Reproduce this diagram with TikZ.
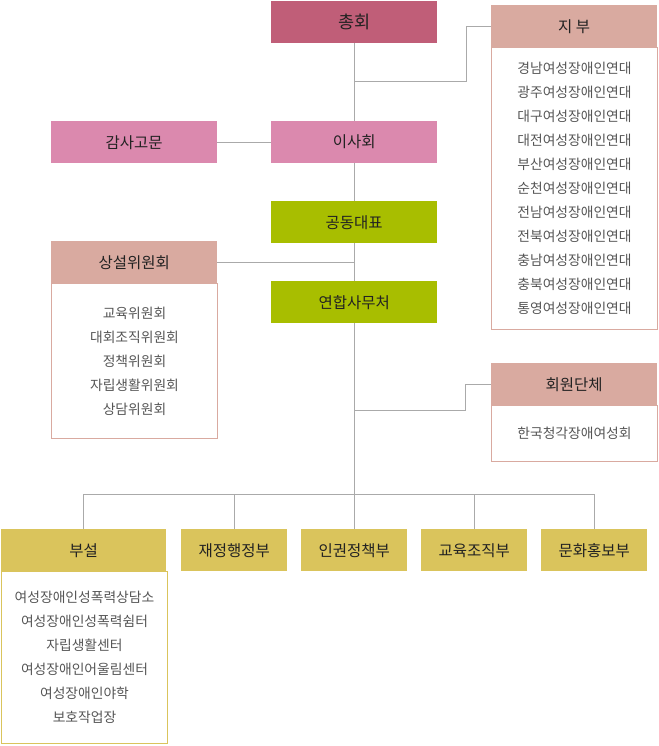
\documentclass[tikz,border=0pt]{standalone}
\usepackage{fontspec}
\newfontfamily\kr{Noto Sans CJK KR}
\definecolor{cRed}{HTML}{C05E78}
\definecolor{cPink}{HTML}{DB89AE}
\definecolor{cGreen}{HTML}{A8BE00}
\definecolor{cRose}{HTML}{D9AAA0}
\definecolor{cGold}{HTML}{DAC45C}
\definecolor{cLine}{HTML}{AAAAAA}
\definecolor{cText}{HTML}{222222}
\definecolor{cBody}{HTML}{555555}
\begin{document}
\begin{tikzpicture}[x=1pt,y=-1pt,
  hbox/.style={anchor=north west,minimum width=166pt,minimum height=42pt,inner sep=0pt,text=cText,font=\kr\fontsize{15.5}{18}\selectfont},
  sbox/.style={hbox,minimum width=106pt},
  bodybox/.style={anchor=north west,minimum width=166pt,inner sep=0pt,align=center,text=cBody,font=\kr\fontsize{13.8}{24}\selectfont,line width=1pt},
  conn/.style={draw=cLine,line width=1pt}]
\useasboundingbox (0,0) rectangle (658,746);
% bodies first
\node[bodybox,draw=cRose,minimum height=282pt] (jibubody) at (491,47) {경남여성장애인연대\\광주여성장애인연대\\대구여성장애인연대\\대전여성장애인연대\\부산여성장애인연대\\순천여성장애인연대\\전남여성장애인연대\\전북여성장애인연대\\충남여성장애인연대\\충북여성장애인연대\\통영여성장애인연대};
\node[bodybox,draw=cRose,minimum height=155pt] (sangbody) at (51,283) {교육위원회\\대회조직위원회\\정책위원회\\자립생활위원회\\상담위원회};
\node[bodybox,draw=cRose,minimum height=56pt] (hoebody) at (491,405) {한국청각장애여성회};
\node[bodybox,draw=cGold,minimum height=172pt] (bubody) at (1,571) {여성장애인성폭력상담소\\여성장애인성폭력쉼터\\자립생활센터\\여성장애인어울림센터\\여성장애인야학\\보호작업장};
% headers
\node[hbox,fill=cRed,font=\kr\fontsize{17.5}{20}\selectfont] (chonghoe) at (271,1) {총회};
\node[hbox,fill=cRose] (jibu) at (491,5) {지 부};
\node[hbox,fill=cPink] (gamsa) at (51,121) {감사고문};
\node[hbox,fill=cPink] (isahoe) at (271,121) {이사회};
\node[hbox,fill=cGreen] (gongdong) at (271,201) {공동대표};
\node[hbox,fill=cRose] (sangseol) at (51,241) {상설위원회};
\node[hbox,fill=cGreen] (yeonhap) at (271,281) {연합사무처};
\node[hbox,fill=cRose] (hoewon) at (491,363) {회원단체};
\node[hbox,fill=cGold,minimum width=165pt] (buseol) at (1,529) {부설};
\node[sbox,fill=cGold] (jaejeong) at (181,529) {재정행정부};
\node[sbox,fill=cGold] (ingwon) at (301,529) {인권정책부};
\node[sbox,fill=cGold] (gyoyuk) at (421,529) {교육조직부};
\node[sbox,fill=cGold] (munhwa) at (541,529) {문화홍보부};
% junction coordinates
\coordinate (jj) at (354,82);
\coordinate (hj) at (354,410);
% connectors
\draw[conn] (chonghoe.south) -- (isahoe.north);
\draw[conn] (isahoe.south) -- (gongdong.north);
\draw[conn] (gongdong.south) -- (yeonhap.north);
\draw[conn] (yeonhap.south) -- (ingwon.north);
\draw[conn] (jibu.west) -- ++(-25,0) |- (jj);
\draw[conn] (gamsa.east) -- (isahoe.west);
\draw[conn] (sangseol.east) -- (sangseol.east -| gongdong.south);
\draw[conn] (hoewon.west) -- ++(-26,0) |- (hj);
\draw[conn] (buseol.north) -- ++(0,-35) -| (munhwa.north);
\draw[conn] (jaejeong.north) -- ++(0,-35);
\draw[conn] (gyoyuk.north) -- ++(0,-35);
\end{tikzpicture}
\end{document}
